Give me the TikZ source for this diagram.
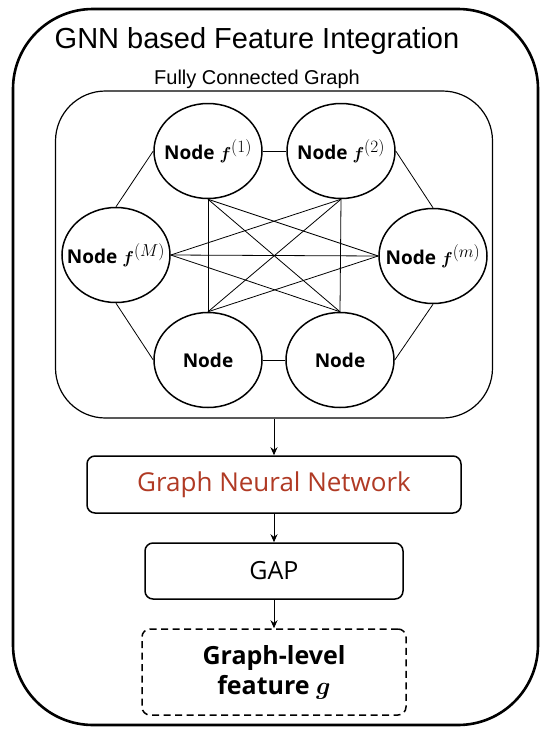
\documentclass[tikz,border=0pt]{standalone}
\usepackage{fontspec}
\usepackage{amsmath}
\setmainfont{Open Sans}
\newfontfamily\titlefont{Liberation Sans}
\usetikzlibrary{shapes.geometric, arrows.meta}
\definecolor{gnnred}{RGB}{176,58,36}
\newcommand{\featsup}[1]{\boldsymbol{f}^{\textstyle(#1)}}
\begin{document}
\begin{tikzpicture}[x=1pt, y=-1pt,
  graphnode/.style={draw, ellipse, line width=1.5pt, minimum width=108pt, minimum height=95pt, inner sep=-16pt, font=\fontsize{19}{22}\selectfont\bfseries},
  edge/.style={line width=0.8pt},
  blockbox/.style={draw, rounded corners=8pt, line width=1.5pt, inner sep=0pt},
  flow/.style={-{Stealth[length=8pt, width=7pt]}, line width=1pt}]
  \useasboundingbox (0,0) rectangle (550,734);
  % frames
  \draw[line width=2.6pt, rounded corners=80pt] (13,9) rectangle (538,725);
  \node (title) at (257,41) {\titlefont\fontsize{29}{33}\selectfont GNN based Feature Integration};
  \node (subtitle) at (257,79) {\titlefont\fontsize{20}{23}\selectfont Fully Connected Graph};
  \node[draw, line width=1.2pt, rounded corners=50pt, minimum width=437pt, minimum height=327pt] (graph) at (274,254.5) {};
  % graph nodes
  \node[graphnode] (n1) at (208,151) {Node $\featsup{1}$};
  \node[graphnode] (n2) at (341,151) {Node $\featsup{2}$};
  \node[graphnode] (nM) at (116,255) {Node $\featsup{M}$};
  \node[graphnode] (nm) at (433,256) {Node $\featsup{m}$};
  \node[graphnode] (nbl) at (208,360) {Node};
  \node[graphnode] (nbr) at (340,360) {Node};
  % outer ring
  \draw[edge] (nM.north) -- (n1.west);
  \draw[edge] (n1.east) -- (n2.west);
  \draw[edge] (n2.east) -- (nm.north);
  \draw[edge] (nm.south) -- (nbr.east);
  \draw[edge] (nbr.west) -- (nbl.east);
  \draw[edge] (nbl.west) -- (nM.south);
  % cross links
  \foreach \a/\b in {n1.south/nbl.north, n1.south/nbr.north, n1.south/nm.west,
                     n2.south/nbr.north, n2.south/nbl.north, n2.south/nM.east,
                     nM.east/nm.west, nM.east/nbr.north, nm.west/nbl.north}
    \draw[edge] (\a) -- (\b);
  % pipeline
  \node[blockbox, minimum width=374pt, minimum height=57pt, text=gnnred, font=\fontsize{26}{30}\selectfont] (gnn) at (274,484.5) {Graph Neural Network};
  \node[blockbox, minimum width=258pt, minimum height=56pt, font=\fontsize{25}{29}\selectfont] (gap) at (274,571) {GAP};
  \node[blockbox, dash pattern=on 7pt off 4.5pt, minimum width=264pt, minimum height=86pt, align=center, font=\fontsize{25}{30}\selectfont\bfseries] (out) at (274,672) {Graph-level\\feature $\boldsymbol{g}$};
  \draw[flow] (graph.south) -- (gnn.north);
  \draw[flow] (gnn.south) -- (gap.north);
  \draw[flow] (gap.south) -- (out.north);
\end{tikzpicture}
\end{document}
